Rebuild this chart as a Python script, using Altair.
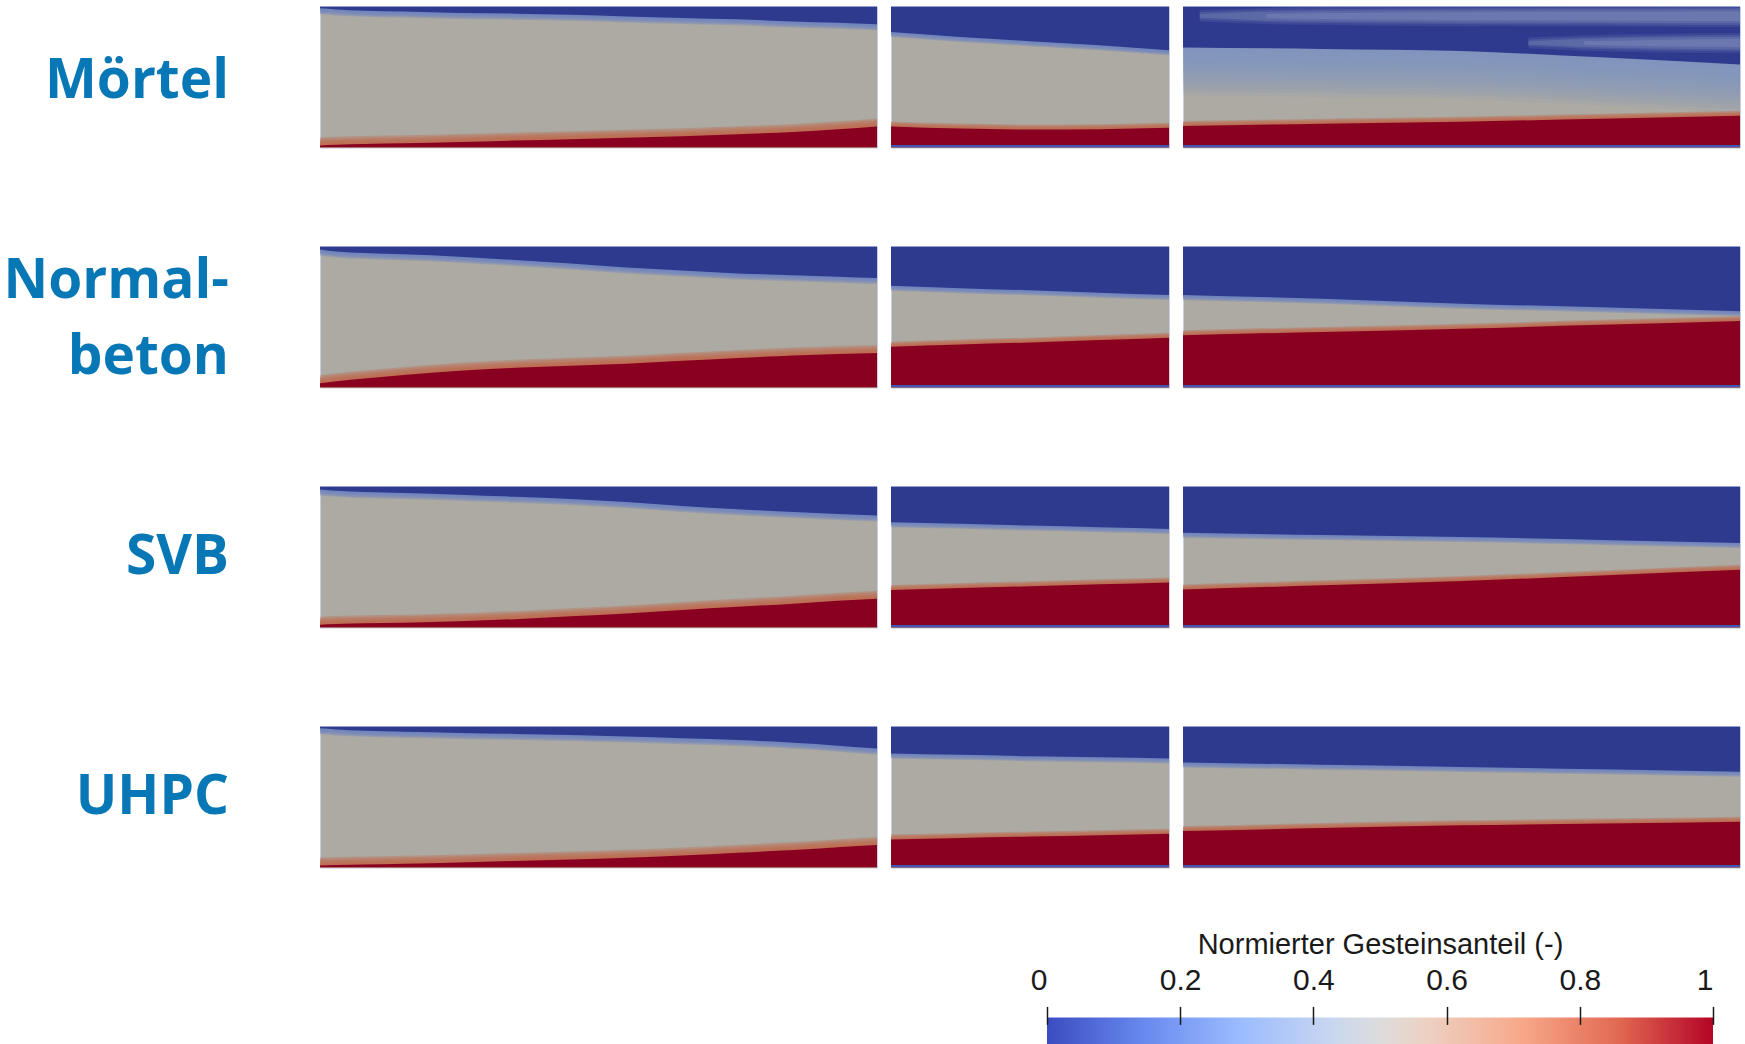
import altair as alt
import pandas as pd

# ---------------------------------------------------------------------------
# Data: normalised aggregate content in the three sections of each mix.
# Blue = low aggregate content (top), red = high aggregate content (bottom).
# "blue_*" = depth of the aggregate-poor zone, fraction of the section height
#            measured from the top; "red_*" = height of the aggregate-rich
#            zone, fraction of the section height measured from the bottom.
# ---------------------------------------------------------------------------
ROW_NAMES = ["Mörtel", "Normalbeton", "SVB", "UHPC"]
ROW_LABELS = ["Mörtel", "Normal-\nbeton", "SVB", "UHPC"]

POS_A = [0.0, 0.03, 0.08, 0.15, 0.25, 0.35, 0.45, 0.55, 0.65, 0.75, 0.85, 0.93, 1.0]
POS_BC = [0.0, 0.25, 0.5, 0.75, 1.0]

blue_a = {
    "Mörtel":      [0.012, 0.02, 0.03, 0.035, 0.045, 0.05, 0.058, 0.07, 0.08, 0.09, 0.105, 0.115, 0.125],
    "Normalbeton": [0.02, 0.035, 0.045, 0.055, 0.072, 0.095, 0.12, 0.148, 0.17, 0.19, 0.203, 0.213, 0.222],
    "SVB":         [0.02, 0.03, 0.038, 0.045, 0.057, 0.072, 0.088, 0.11, 0.137, 0.16, 0.18, 0.195, 0.205],
    "UHPC":        [0.012, 0.02, 0.03, 0.037, 0.045, 0.052, 0.06, 0.07, 0.082, 0.095, 0.115, 0.135, 0.155],
}
red_a = {
    "Mörtel":      [0.015, 0.02, 0.025, 0.03, 0.04, 0.05, 0.06, 0.07, 0.08, 0.095, 0.11, 0.13, 0.15],
    "Normalbeton": [0.03, 0.045, 0.065, 0.09, 0.12, 0.14, 0.155, 0.17, 0.19, 0.21, 0.228, 0.238, 0.245],
    "SVB":         [0.02, 0.025, 0.03, 0.035, 0.045, 0.06, 0.08, 0.1, 0.125, 0.148, 0.17, 0.19, 0.205],
    "UHPC":        [0.015, 0.018, 0.022, 0.028, 0.037, 0.047, 0.058, 0.07, 0.085, 0.105, 0.125, 0.145, 0.16],
}
blue_b = {
    "Mörtel":      [0.18, 0.215, 0.245, 0.275, 0.31],
    "Normalbeton": [0.277, 0.295, 0.31, 0.327, 0.343],
    "SVB":         [0.252, 0.264, 0.276, 0.288, 0.30],
    "UHPC":        [0.19, 0.2, 0.21, 0.218, 0.227],
}
red_b = {
    "Mörtel":      [0.15, 0.135, 0.128, 0.13, 0.14],
    "Normalbeton": [0.289, 0.305, 0.32, 0.337, 0.354],
    "SVB":         [0.266, 0.28, 0.293, 0.307, 0.32],
    "UHPC":        [0.2, 0.21, 0.22, 0.23, 0.24],
}
blue_c = {
    "Mörtel":      [0.29, 0.30, 0.315, 0.36, 0.41],
    "Normalbeton": [0.343, 0.37, 0.405, 0.43, 0.458],
    "SVB":         [0.328, 0.343, 0.358, 0.378, 0.40],
    "UHPC":        [0.255, 0.27, 0.286, 0.303, 0.32],
}
red_c = {
    "Mörtel":      [0.154, 0.17, 0.184, 0.205, 0.225],
    "Normalbeton": [0.371, 0.395, 0.418, 0.445, 0.472],
    "SVB":         [0.27, 0.3, 0.33, 0.37, 0.41],
    "UHPC":        [0.26, 0.28, 0.3, 0.313, 0.326],
}

# lighter streaks inside the aggregate-poor zone of the mortar, third section
streak1_pos = [0.03, 0.15, 0.35, 0.6, 0.85, 1.0]
streak1_upper = [0.06, 0.045, 0.035, 0.03, 0.028, 0.027]
streak1_lower = [0.07, 0.09, 0.1, 0.105, 0.108, 0.11]
streak2_pos = [0.62, 0.72, 0.85, 1.0]
streak2_upper = [0.255, 0.238, 0.228, 0.222]
streak2_lower = [0.26, 0.278, 0.29, 0.295]

# colour bar
CB_TICKS = [0, 0.2, 0.4, 0.6, 0.8, 1]
CB_STOPS = [0.0, 0.143, 0.286, 0.429, 0.5, 0.571, 0.714, 0.857, 1.0]
CB_COLORS = ["#3b4cc0", "#6788ee", "#9abbff", "#c9d7f0", "#dddcdc",
             "#edd1c2", "#f7a889", "#e26952", "#b40426"]

# ---------------------------------------------------------------------------
# Styling
# ---------------------------------------------------------------------------
H = 141
W_LABEL, W_A, W_B, W_C = 305, 557, 278, 557
LINE_H = 76
LABEL_DY = [4, 2, 0, 0]
GREY = "#acaaa2"
BLUE = "#2e3a8e"
RED = "#8a0020"
BLUE_SOFT = "#6a80c4"
RED_SOFT = "#c0684a"
HAZE = "#7d90c6"
STREAK = "#8d9cc4"
STRIP = "#4456b4"
LABEL_COLOR = "#0877b6"
BORDER = "#c9cde4"
INK = "#1a1a1a"

X_SC = alt.Scale(domain=[0, 1], nice=False, zero=False)
Y_SC = alt.Scale(domain=[0, 1], nice=False, zero=False)


def xenc():
    return alt.X("pos:Q", scale=X_SC, axis=None)


def yenc(field):
    return alt.Y(f"{field}:Q", scale=Y_SC, axis=None)


def soft_band(base, edge_expr, n, px, alpha, color, upward):
    """Stack of translucent areas that fades a zone boundary into the grey core."""
    step = px / n / H
    sign = "+" if upward else "-"
    ch = (
        base.transform_calculate(k=f"sequence(1, {n + 1})")
        .transform_flatten(["k"])
        .transform_calculate(edge=f"{edge_expr} {sign} datum.k * {step}", ceil="1", floor="0")
        .mark_area(color=color, opacity=alpha, interpolate="monotone", clip=True)
    )
    if upward:
        return ch.encode(x=xenc(), y=yenc("floor"), y2="edge:Q", detail="k:O")
    return ch.encode(x=xenc(), y=yenc("edge"), y2="ceil:Q", detail="k:O")


def panel(pos, top, bot, width, blue_style, red_style, strip, extras=()):
    df = pd.DataFrame({"pos": pos, "top": top, "bot": bot})
    base = alt.Chart(df)
    layers = [
        soft_band(base, "1 - datum.top", *blue_style, BLUE_SOFT if blue_style[1] < 20 else HAZE, False),
        base.transform_calculate(edge="1 - datum.top", ceil="1")
        .mark_area(color=BLUE, interpolate="monotone", clip=True)
        .encode(x=xenc(), y=yenc("edge"), y2="ceil:Q"),
        soft_band(base, "datum.bot", *red_style, RED_SOFT, True),
        base.transform_calculate(floor="0")
        .mark_area(color=RED, interpolate="monotone", clip=True)
        .encode(x=xenc(), y=yenc("floor"), y2="bot:Q"),
    ]
    layers.extend(extras)
    if strip:
        layers.append(
            base.transform_calculate(floor="0", lid="0.018")
            .mark_area(color=STRIP, clip=True)
            .encode(x=xenc(), y=yenc("floor"), y2="lid:Q")
        )
    return alt.layer(*layers).properties(
        width=width, height=H,
        view=alt.ViewBackground(fill=GREY, stroke=BORDER, strokeWidth=1),
    )


def streak(pos, upper, lower):
    df = pd.DataFrame({"pos": pos, "upper": upper, "lower": lower})
    base = alt.Chart(df)
    out = []
    for pad, alpha in [(0.035, 0.15), (0.02, 0.2), (0.008, 0.25), (-0.008, 0.3)]:
        out.append(
            base.transform_calculate(a=f"1 - datum.upper + {pad}", b=f"1 - datum.lower - {pad}")
            .transform_filter("datum.a > datum.b")
            .mark_area(color=STREAK, opacity=alpha, interpolate="monotone", clip=True)
            .encode(x=xenc(), y=yenc("b"), y2="a:Q")
        )
    return out


def row_label(text, dy):
    lines = text.count("\n") + 1
    return (
        alt.Chart(pd.DataFrame({"name": [text]}))
        .mark_text(
            align="right", baseline="middle", font="Open Sans", fontWeight="bold",
            fontSize=55, color=LABEL_COLOR, lineBreak="\n", lineHeight=LINE_H,
        )
        .encode(x=alt.value(228), y=alt.value(H / 2 - (lines - 1) * LINE_H / 2 + dy),
                text="name:N")
        .properties(width=W_LABEL, height=H,
                    view=alt.ViewBackground(fill="white", stroke="transparent"))
    )


rows = []
for name, label, dy in zip(ROW_NAMES, ROW_LABELS, LABEL_DY):
    soft_a = (5, 6, 0.35)
    soft_bc = (5, 5, 0.35)
    extras_c = ()
    blue_soft_c = soft_bc
    if name == "Mörtel":
        blue_soft_c = (14, 48, 0.12)
        extras_c = streak(streak1_pos, streak1_upper, streak1_lower) + streak(
            streak2_pos, streak2_upper, streak2_lower)
    pa = panel(POS_A, blue_a[name], red_a[name], W_A, soft_a, (5, 8, 0.35), False)
    pb = panel(POS_BC, blue_b[name], red_b[name], W_B, soft_bc, soft_bc, True)
    pc = panel(POS_BC, blue_c[name], red_c[name], W_C, blue_soft_c, soft_bc, True, extras_c)
    rows.append(alt.hconcat(row_label(label, dy), pa, pb, pc, spacing=14, bounds="flush"))

grid = alt.vconcat(*rows, spacing=97)

# colour bar -----------------------------------------------------------------
gradient = alt.LinearGradient(
    gradient="linear",
    stops=[alt.GradientStop(color=c, offset=o) for o, c in zip(CB_STOPS, CB_COLORS)],
    x1=0, x2=1, y1=0, y2=0,
)
bar = (
    alt.Chart(pd.DataFrame({"lo": [0.0], "hi": [1.0]}))
    .mark_rect(fill=gradient, strokeWidth=0)
    .encode(
        x=alt.X(
            "lo:Q",
            scale=alt.Scale(domain=[0, 1], nice=False),
            axis=alt.Axis(
                orient="top", values=CB_TICKS, format=".1~f",
                title="Normierter Gesteinsanteil (-)",
                domain=False, grid=False, tickSize=18, offset=-7, tickWidth=1.5,
                tickColor=INK, labelColor=INK, labelFlush=False,
                labelAlign={"expr": "datum.value == 0 || datum.value == 1 ? 'right' : 'center'"},
                labelFont="Liberation Sans", labelFontSize=30, labelPadding=11,
                titleFont="Liberation Sans", titleFontSize=29, titleFontWeight="normal",
                titleColor=INK, titlePadding=6, zindex=1,
            ),
        ),
        x2="hi:Q",
        y=alt.value(0),
        y2=alt.value(29),
    )
    .properties(width=666, height=29,
                view=alt.ViewBackground(fill="white", stroke="transparent"))
)
spacer = (
    alt.Chart(pd.DataFrame({"v": [0]}))
    .mark_point(opacity=0)
    .encode(x=alt.value(500), y=alt.value(15))
    .properties(width=1046, height=29,
                view=alt.ViewBackground(fill="white", stroke="transparent"))
)
cb_row = alt.hconcat(spacer, bar, spacing=0, bounds="flush")

chart = (
    alt.vconcat(grid, cb_row, spacing=60.8)
    .properties(padding={"left": 0, "top": 5.6, "right": 0, "bottom": 0})
    .configure_view(strokeWidth=0)
    .configure(background="white")
)

chart.save("out.html", embed_options={"renderer": "svg", "actions": False})
